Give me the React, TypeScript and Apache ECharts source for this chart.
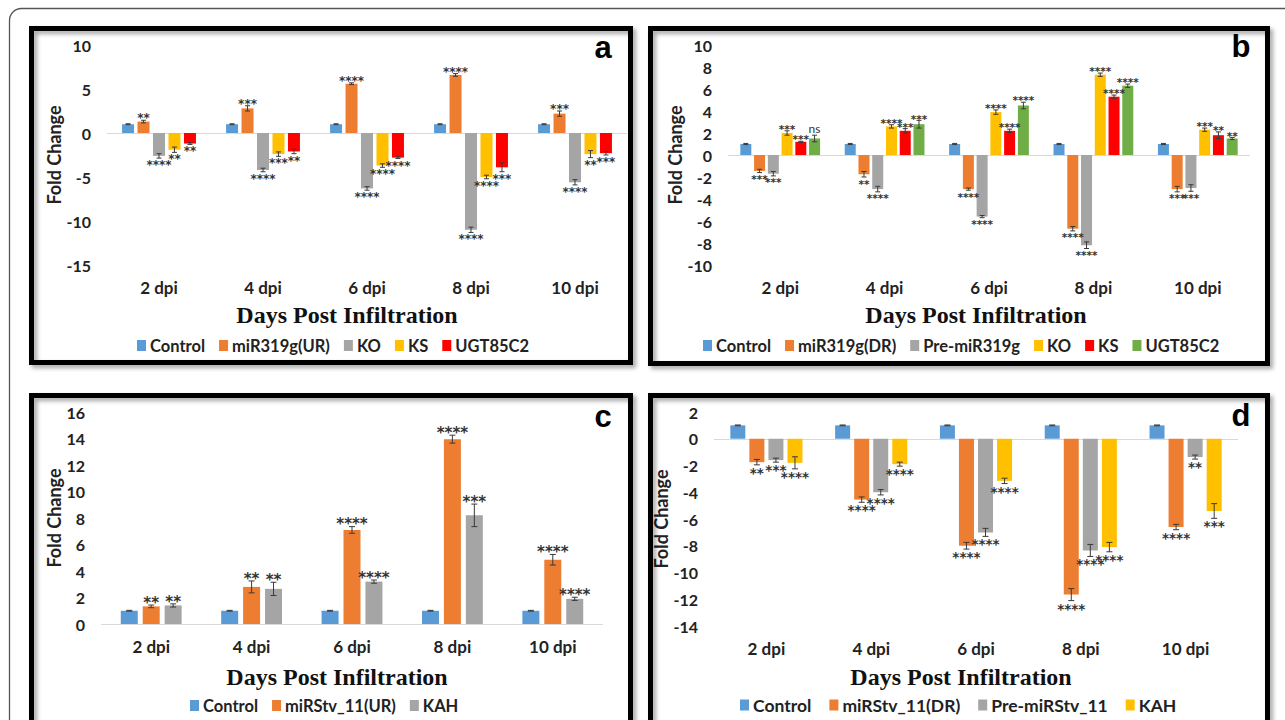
import React, { useEffect, useRef } from "react";
import * as echarts from "echarts";

// ---------- shared ----------
const categories = ["2 dpi", "4 dpi", "6 dpi", "8 dpi", "10 dpi"];
const BLUE = "#5B9BD5";
const ORANGE = "#ED7D31";
const GRAY = "#A5A5A5";
const YELLOW = "#FFC000";
const RED = "#FF0000";
const GREEN = "#70AD47";

// ---------- panel a ----------
const aNames = ["Control", "miR319g(UR)", "KO", "KS", "UGT85C2"];
const aColors = [BLUE, ORANGE, GRAY, YELLOW, RED];
const aControl = [1, 1, 1, 1, 1];
const aMiR = [1.3, 2.8, 5.6, 6.6, 2.2];
const aKO = [-2.6, -4.2, -6.3, -11.0, -5.6];
const aKS = [-1.9, -2.4, -3.7, -5.0, -2.4];
const aUGT = [-1.2, -2.1, -2.8, -3.9, -2.3];
const aControlErr = [0.05, 0.05, 0.05, 0.05, 0.05];
const aMiRErr = [0.15, 0.3, 0.1, 0.15, 0.3];
const aKOErr = [0.25, 0.2, 0.2, 0.3, 0.3];
const aKSErr = [0.3, 0.25, 0.2, 0.2, 0.4];
const aUGTErr = [0.1, 0.25, 0.1, 0.5, 0.2];
const aMiRSig = ["**", "***", "****", "****", "***"];
const aKOSig = ["****", "****", "****", "****", "****"];
const aKSSig = ["**", "***", "****", "****", "**"];
const aUGTSig = ["**", "**", "****", "***", "***"];

// ---------- panel b ----------
const bNames = ["Control", "miR319g(DR)", "Pre-miR319g", "KO", "KS", "UGT85C2"];
const bColors = [BLUE, ORANGE, GRAY, YELLOW, RED, GREEN];
const bControl = [1, 1, 1, 1, 1];
const bMiR = [-1.45, -1.75, -3.1, -6.7, -3.1];
const bPre = [-1.7, -3.1, -5.6, -8.2, -3.0];
const bKO = [2.0, 2.6, 3.9, 7.3, 2.3];
const bKS = [1.2, 2.2, 2.2, 5.3, 1.8];
const bUGT = [1.5, 2.8, 4.5, 6.3, 1.5];
const bControlErr = [0.05, 0.05, 0.05, 0.05, 0.05];
const bMiRErr = [0.15, 0.25, 0.1, 0.2, 0.25];
const bPreErr = [0.2, 0.25, 0.1, 0.3, 0.3];
const bKOErr = [0.2, 0.15, 0.2, 0.15, 0.15];
const bKSErr = [0.05, 0.2, 0.15, 0.15, 0.3];
const bUGTErr = [0.3, 0.35, 0.3, 0.15, 0.1];
const bMiRSig = ["***", "**", "****", "****", "***"];
const bPreSig = ["***", "****", "****", "****", "***"];
const bKOSig = ["***", "****", "****", "****", "***"];
const bKSSig = ["***", "***", "****", "****", "**"];
const bUGTSig = ["ns", "***", "****", "****", "**"];

// ---------- panel c ----------
const cNames = ["Control", "miRStv_11(UR)", "KAH"];
const cColors = [BLUE, ORANGE, GRAY];
const cControl = [1, 1, 1, 1, 1];
const cMiR = [1.33, 2.8, 7.1, 13.95, 4.85];
const cKAH = [1.4, 2.65, 3.2, 8.2, 1.9];
const cControlErr = [0.03, 0.03, 0.03, 0.03, 0.03];
const cMiRErr = [0.1, 0.45, 0.25, 0.3, 0.4];
const cKAHErr = [0.12, 0.5, 0.12, 0.85, 0.12];
const cMiRSig = ["**", "**", "****", "****", "****"];
const cKAHSig = ["**", "**", "****", "***", "****"];

// ---------- panel d ----------
const dNames = ["Control", "miRStv_11(DR)", "Pre-miRStv_11", "KAH"];
const dColors = [BLUE, ORANGE, GRAY, YELLOW];
const dControl = [1, 1, 1, 1, 1];
const dMiR = [-1.75, -4.55, -8.0, -11.65, -6.6];
const dPre = [-1.6, -4.0, -7.0, -8.35, -1.37];
const dKAH = [-1.8, -1.9, -3.15, -8.1, -5.4];
const dControlErr = [0.03, 0.03, 0.03, 0.03, 0.03];
const dMiRErr = [0.2, 0.2, 0.25, 0.45, 0.2];
const dPreErr = [0.15, 0.2, 0.3, 0.45, 0.15];
const dKAHErr = [0.45, 0.15, 0.2, 0.35, 0.55];
const dMiRSig = ["**", "****", "****", "****", "****"];
const dPreSig = ["***", "****", "****", "****", "**"];
const dKAHSig = ["****", "****", "****", "****", "***"];

const EMPTY = ["", "", "", "", ""];

const SANS = "Lato";
const SERIF = "Liberation Serif";

type PanelCfg = {
  idx: number;
  grid: { left: number; top: number; width: number; height: number };
  yMin: number;
  yMax: number;
  yInterval: number;
  names: string[];
  colors: string[];
  values: number[][];
  errors: number[][];
  sigs: string[][];
  barWidth: number;
  gapPct: number;
  starSize: number;
  capHalf: number;
  yNameGap: number;
  xNameGap: number;
  xNameShift: number;
  legendLeft: number;
  legendTop: number;
  legendFont: number;
  legendGap: number;
};

const panels: PanelCfg[] = [
  {
    idx: 0,
    grid: { left: 107, top: 45, width: 520, height: 220 },
    yMin: -15, yMax: 10, yInterval: 5,
    names: aNames, colors: aColors,
    values: [aControl, aMiR, aKO, aKS, aUGT],
    errors: [aControlErr, aMiRErr, aKOErr, aKSErr, aUGTErr],
    sigs: [EMPTY, aMiRSig, aKOSig, aKSSig, aUGTSig],
    barWidth: 12, gapPct: 29, starSize: 12, capHalf: 2.5,
    yNameGap: 42, xNameGap: 38, xNameShift: 20, legendLeft: 132, legendTop: 332,
    legendFont: 16.5, legendGap: 14,
  },
  {
    idx: 1,
    grid: { left: 728, top: 45, width: 522, height: 220 },
    yMin: -10, yMax: 10, yInterval: 2,
    names: bNames, colors: bColors,
    values: [bControl, bMiR, bPre, bKO, bKS, bUGT],
    errors: [bControlErr, bMiRErr, bPreErr, bKOErr, bKSErr, bUGTErr],
    sigs: [EMPTY, bMiRSig, bPreSig, bKOSig, bKSSig, bUGTSig],
    barWidth: 11, gapPct: 25, starSize: 10.5, capHalf: 2.5,
    yNameGap: 43, xNameGap: 38, xNameShift: 13, legendLeft: 698, legendTop: 332,
    legendFont: 16.5, legendGap: 14,
  },
  {
    idx: 2,
    grid: { left: 101, top: 412, width: 502, height: 212 },
    yMin: 0, yMax: 16, yInterval: 2,
    names: cNames, colors: cColors,
    values: [cControl, cMiR, cKAH],
    errors: [cControlErr, cMiRErr, cKAHErr],
    sigs: [EMPTY, cMiRSig, cKAHSig],
    barWidth: 17, gapPct: 29, starSize: 15, capHalf: 3,
    yNameGap: 37, xNameGap: 41, xNameShift: 15, legendLeft: 185, legendTop: 692,
    legendFont: 16.5, legendGap: 14,
  },
  {
    idx: 3,
    grid: { left: 714, top: 412, width: 524, height: 214 },
    yMin: -14, yMax: 2, yInterval: 2,
    names: dNames, colors: dColors,
    values: [dControl, dMiR, dPre, dKAH],
    errors: [dControlErr, dMiRErr, dPreErr, dKAHErr],
    sigs: [EMPTY, dMiRSig, dPreSig, dKAHSig],
    barWidth: 15, gapPct: 27, starSize: 13.5, capHalf: 3,
    yNameGap: 44, xNameGap: 39, xNameShift: 15, legendLeft: 735, legendTop: 691,
    legendFont: 17.5, legendGap: 18,
  },
];

function buildOption() {
  const grid: any[] = [];
  const xAxis: any[] = [];
  const yAxis: any[] = [];
  const series: any[] = [];
  const legend: any[] = [];

  panels.forEach((p) => {
    grid.push({ ...p.grid, containLabel: false });
    xAxis.push({
      type: "category",
      gridIndex: p.idx,
      data: categories,
      axisLine: { show: false, onZero: false },
      axisTick: { show: false },
      axisLabel: { fontFamily: SANS, fontWeight: "bold", fontSize: 17, color: "#222", margin: 14 },
      name: "Days Post Infiltration",
      nameLocation: "middle",
      nameGap: p.xNameGap,
      nameTextStyle: {
        fontFamily: SERIF,
        fontWeight: "bold",
        fontSize: 24,
        color: "#111",
        padding: [0, p.xNameShift * 2, 0, 0],
      },
    });
    yAxis.push({
      type: "value",
      gridIndex: p.idx,
      min: p.yMin,
      max: p.yMax,
      interval: p.yInterval,
      axisLine: { show: false },
      axisTick: { show: false },
      splitLine: { show: false },
      axisLabel: { fontFamily: SANS, fontWeight: "bold", fontSize: 16, color: "#222", margin: 16 },
      name: "Fold Change",
      nameLocation: "middle",
      nameGap: p.yNameGap,
      nameTextStyle: { fontFamily: SANS, fontWeight: "bold", fontSize: 18, color: "#222" },
    });

    p.names.forEach((name, si) => {
      const s: any = {
        type: "bar",
        name,
        xAxisIndex: p.idx,
        yAxisIndex: p.idx,
        data: p.values[si],
        barWidth: p.barWidth,
        barGap: p.gapPct + "%",
        itemStyle: { color: p.colors[si] },
        z: 3,
      };
      if (si === 0) {
        s.markLine = {
          silent: true,
          symbol: "none",
          label: { show: false },
          lineStyle: { color: "#D9D9D9", width: 1.2, type: "solid" },
          data: [{ yAxis: 0 }],
          z: 2,
        };
      }
      series.push(s);
    });

    const errData: number[][] = [];
    p.names.forEach((_, si) => {
      p.values[si].forEach((v, ci) => {
        errData.push([ci, si, v, p.errors[si][ci]]);
      });
    });
    const n = p.names.length;
    const bw = p.barWidth;
    const step = bw * (1 + p.gapPct / 100);
    const total = n * bw + (n - 1) * bw * (p.gapPct / 100);
    series.push({
      type: "custom",
      name: "err-" + p.idx,
      xAxisIndex: p.idx,
      yAxisIndex: p.idx,
      encode: { x: 0, y: 2 },
      z: 5,
      silent: true,
      data: errData,
      renderItem: (params: any, api: any) => {
        const ci = api.value(0);
        const si = api.value(1);
        const v = api.value(2);
        const e = api.value(3);
        const c = api.coord([ci, 0]);
        const x = c[0] - total / 2 + si * step + bw / 2;
        const yHi = api.coord([ci, v + e])[1];
        const yLo = api.coord([ci, v - e])[1];
        const lineStyle = { stroke: "#3a3a3a", lineWidth: 1 };
        const h = p.capHalf;
        const children: any[] = [
          { type: "line", shape: { x1: x, y1: yHi, x2: x, y2: yLo }, style: lineStyle },
          { type: "line", shape: { x1: x - h, y1: yHi, x2: x + h, y2: yHi }, style: lineStyle },
          { type: "line", shape: { x1: x - h, y1: yLo, x2: x + h, y2: yLo }, style: lineStyle },
        ];
        const label = p.sigs[si][ci];
        if (label) {
          const pos = v >= 0;
          children.push({
            type: "text",
            x,
            y: pos ? yHi + (label === "ns" ? -1 : p.starSize * 0.35) : yLo + 1,
            style: {
              text: label,
              fill: "#333",
              fontSize: label === "ns" ? p.starSize + 1.5 : p.starSize,
              fontFamily: label === "ns" ? SANS : "DejaVu Sans",
              fontWeight: label === "ns" ? "normal" : "bold",
              align: "center",
              verticalAlign: pos ? "bottom" : "top",
            },
          });
        }
        return { type: "group", children };
      },
    });

    legend.push({
      left: p.legendLeft,
      top: p.legendTop,
      orient: "horizontal",
      icon: "rect",
      itemWidth: 9,
      itemHeight: 11,
      itemGap: p.legendGap,
      selectedMode: false,
      textStyle: { fontFamily: SANS, fontWeight: "bold", fontSize: p.legendFont, color: "#222", padding: [0, 0, 0, -1] },
      data: p.names.map((nm, i) => ({ name: nm, icon: "rect", itemStyle: { color: p.colors[i] } })),
    });
  });

  const border = (x: number, y: number, w: number, h: number) => ({
    type: "rect",
    shape: { x, y, width: w, height: h },
    style: {
      fill: "none",
      stroke: "#000",
      lineWidth: 5,
      shadowBlur: 4,
      shadowOffsetX: 3,
      shadowOffsetY: 3,
      shadowColor: "rgba(0,0,0,0.35)",
    },
    silent: true,
    z: 10,
  });
  const letter = (t: string, x: number, y: number) => ({
    type: "text",
    x,
    y,
    style: {
      text: t,
      fill: "#000",
      font: "bold 31px 'Liberation Sans', Arial, sans-serif",
      align: "center",
      verticalAlign: "middle",
    },
    silent: true,
    z: 11,
  });

  const graphic = [
    {
      type: "rect",
      shape: { x: 9.5, y: 8.5, width: 1320, height: 760, r: 12 },
      style: { fill: "none", stroke: "#555", lineWidth: 1.3 },
      silent: true,
      z: 1,
    },
    border(31.5, 28.5, 599, 334),
    border(650.5, 28.5, 617, 335),
    border(31.5, 395.5, 599, 360),
    border(650.5, 395.5, 617, 360),
    letter("a", 603, 47),
    letter("b", 1241, 46),
    letter("c", 603, 416),
    letter("d", 1241, 415),
  ];

  return {
    animation: false,
    backgroundColor: "#ffffff",
    grid,
    xAxis,
    yAxis,
    series,
    legend,
    graphic,
  };
}

export default function App() {
  const ref = useRef<HTMLDivElement | null>(null);
  useEffect(() => {
    if (!ref.current) return;
    const chart = echarts.init(ref.current, undefined, { renderer: "svg" });
    chart.setOption(buildOption() as any);
    return () => chart.dispose();
  }, []);
  return (
    <div
      ref={ref}
      style={{ position: "absolute", left: 0, top: 0, width: 1285, height: 720 }}
    />
  );
}
